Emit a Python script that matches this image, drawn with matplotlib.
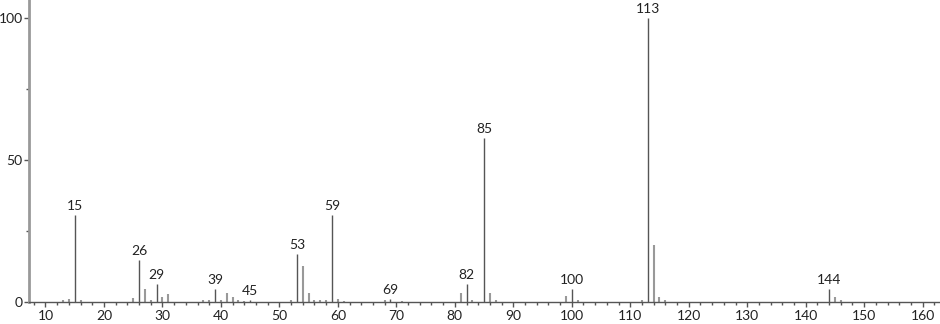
import matplotlib
matplotlib.use("Agg")
import matplotlib.pyplot as plt
from matplotlib.ticker import MultipleLocator

mz = [13, 14, 15, 16, 25, 26, 27, 28, 29, 30, 31,
      37, 38, 39, 40, 41, 42, 43, 44, 45,
      52, 53, 54, 55, 56, 57, 58, 59, 60, 61,
      68, 69, 71, 81, 82, 83, 85, 86, 87,
      99, 100, 101, 112, 113, 114, 115, 116,
      144, 145, 146]
intensity = [0.8, 1.2, 30.7, 0.7, 1.6, 14.9, 4.7, 0.8, 6.5, 1.9, 2.9,
             0.7, 0.8, 4.7, 0.9, 3.4, 1.8, 0.7, 0.6, 0.9,
             0.9, 17.0, 12.7, 3.4, 0.8, 0.9, 0.7, 30.7, 1.2, 0.6,
             0.9, 1.1, 0.5, 3.3, 6.5, 0.8, 58.0, 3.3, 0.7,
             2.2, 4.6, 0.8, 0.8, 100.0, 20.2, 1.9, 0.7,
             4.7, 2.0, 0.8]
labeled = [15, 26, 29, 39, 45, 53, 59, 69, 82, 85, 100, 113, 144]

x_ticks = list(range(10, 161, 10))
y_ticks = [0, 50, 100]

plt.rcParams['font.family'] = ['Lato', 'DejaVu Sans']

fig = plt.figure(figsize=(9.4, 3.24), dpi=100)
ax = fig.add_axes([29/940, (324-302.3)/324, (939-29)/940, 302.3/324])

for m, v in zip(mz, intensity):
    if m in labeled:
        ax.vlines(m, 0, v, color='#555555', lw=1.0)
        ax.annotate(str(m), (m, v), xytext=(0, 2), textcoords='offset points',
                    ha='center', va='bottom', fontsize=10, color='#222222')
    else:
        ax.vlines(m, 0, v, color='#999999', lw=1.5)

ax.set_xlim(7.18, 162.8)
ax.set_ylim(0, 106.4)
ax.set_xticks(x_ticks)
ax.set_yticks(y_ticks)
ax.xaxis.set_minor_locator(MultipleLocator(2))
ax.yaxis.set_minor_locator(MultipleLocator(25))

for s in ['top', 'right']:
    ax.spines[s].set_visible(False)
ax.spines['left'].set_color('#999999')
ax.spines['left'].set_linewidth(2.0)
ax.spines['bottom'].set_color('#555555')
ax.spines['bottom'].set_linewidth(1.0)

ax.tick_params(axis='x', which='major', length=3.5, width=1, color='#555555',
               labelsize=10, labelcolor='#222222', pad=2)
ax.tick_params(axis='x', which='minor', length=2, width=1, color='#555555')
ax.tick_params(axis='y', which='major', length=3.5, width=1, color='#555555',
               labelsize=10, labelcolor='#222222', pad=1)
ax.tick_params(axis='y', which='minor', length=2, width=1, color='#555555')

fig.savefig('out.png', dpi=100)
